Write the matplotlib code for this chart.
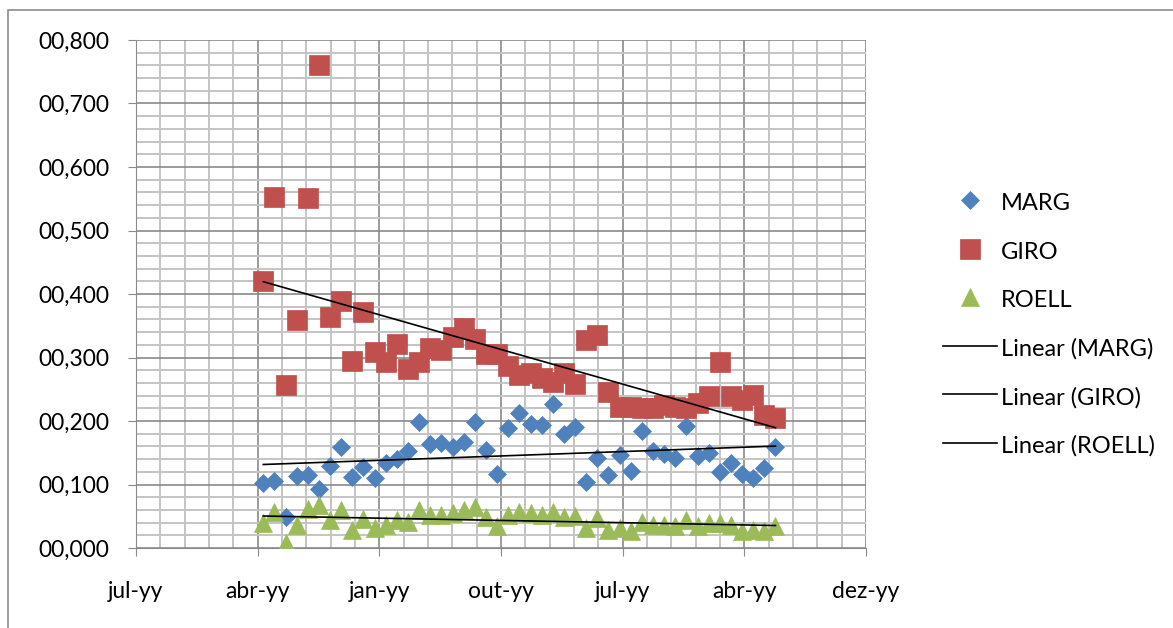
import numpy as np
import matplotlib.pyplot as plt
from matplotlib.patches import Rectangle
from matplotlib.ticker import FuncFormatter, FixedLocator

plt.rcParams['font.family'] = ['Lato', 'DejaVu Sans']

marg = [0.102, 0.106, 0.049, 0.113, 0.115, 0.093, 0.129, 0.159, 0.112, 0.128,
        0.110, 0.134, 0.140, 0.153, 0.198, 0.164, 0.165, 0.159, 0.167, 0.198,
        0.154, 0.117, 0.189, 0.213, 0.195, 0.194, 0.227, 0.180, 0.191, 0.104,
        0.142, 0.115, 0.146, 0.121, 0.184, 0.153, 0.148, 0.142, 0.192, 0.145,
        0.150, 0.120, 0.134, 0.117, 0.110, 0.126, 0.159]
giro = [0.420, 0.552, 0.257, 0.359, 0.551, 0.761, 0.363, 0.389, 0.295, 0.372,
        0.309, 0.293, 0.321, 0.282, 0.293, 0.315, 0.312, 0.333, 0.346, 0.329,
        0.306, 0.306, 0.286, 0.272, 0.276, 0.268, 0.262, 0.275, 0.258, 0.328,
        0.336, 0.246, 0.222, 0.222, 0.220, 0.220, 0.225, 0.222, 0.220, 0.228,
        0.239, 0.293, 0.239, 0.233, 0.241, 0.209, 0.204]
roell = [0.040, 0.057, 0.008, 0.036, 0.062, 0.068, 0.044, 0.060, 0.028, 0.045,
         0.031, 0.036, 0.044, 0.041, 0.060, 0.052, 0.052, 0.055, 0.060, 0.065,
         0.049, 0.034, 0.052, 0.057, 0.055, 0.052, 0.057, 0.049, 0.050, 0.031,
         0.047, 0.028, 0.031, 0.026, 0.041, 0.036, 0.036, 0.034, 0.044, 0.034,
         0.040, 0.039, 0.036, 0.026, 0.028, 0.026, 0.034]
x_labels = ['jul-yy', 'abr-yy', 'jan-yy', 'out-yy', 'jul-yy', 'abr-yy', 'dez-yy']

x = np.arange(len(marg))

fig = plt.figure(figsize=(11.73, 6.28), dpi=100)
ax = fig.add_axes([136 / 1173, 80 / 628, 730 / 1173, 508 / 628])

# outer chart border
fig.add_artist(Rectangle((8 / 1173, -0.1), 1.2, 1.1 - 10 / 628, transform=fig.transFigure,
                         fill=False, edgecolor='#8c8c8c', linewidth=1.2))

series = [('MARG', marg, 'D', 9, '#4F81BD'),
          ('GIRO', giro, 's', 14, '#C0504D'),
          ('ROELL', roell, '^', 13, '#9BBB59')]

handles = []
for name, y, m, ms, c in series:
    h, = ax.plot(x, y, linestyle='none', marker=m, markersize=ms, color=c,
                 markeredgecolor=c, markeredgewidth=0.5, label=name, zorder=3)
    handles.append(h)

# linear trend lines, like Excel's "Linear (...)"
for name, y, m, ms, c in series:
    k, b = np.polyfit(x, y, 1)
    h, = ax.plot([x[0], x[-1]], [k * x[0] + b, k * x[-1] + b], color='black',
                 linewidth=1.2, label='Linear (%s)' % name, zorder=4)
    handles.append(h)

xmin, xmax = -11.43, 54.13
ax.set_xlim(xmin, xmax)
ax.set_ylim(0, 0.8)
ax.xaxis.set_major_locator(FixedLocator(np.linspace(xmin, xmax, 7)))
ax.xaxis.set_minor_locator(FixedLocator(np.linspace(xmin, xmax, 31)))
ax.set_xticklabels(x_labels)
ax.set_yticks(np.arange(0, 0.81, 0.1))
ax.set_yticks(np.arange(0, 0.801, 0.02), minor=True)
ax.yaxis.set_major_formatter(FuncFormatter(lambda v, p: '{:06.3f}'.format(v).replace('.', ',')))

ax.grid(which='minor', color='#c4c4c4', linewidth=1.4)
ax.grid(which='major', color='#8a8a8a', linewidth=1.2)
ax.set_axisbelow(True)
for s in ax.spines.values():
    s.set_visible(False)
ax.spines['left'].set_visible(True)
ax.spines['bottom'].set_visible(True)
ax.spines['left'].set_color('#8a8a8a')
ax.spines['bottom'].set_color('#8a8a8a')
ax.tick_params(which='major', length=6, color='#8a8a8a', labelsize=16.5)
ax.tick_params(axis='y', which='major', pad=13)
ax.tick_params(axis='x', which='major', pad=18)
ax.tick_params(which='minor', length=0)

fig.legend(handles=handles, loc='upper left', bbox_to_anchor=(943 / 1173, 1 - 190 / 628),
           frameon=False, fontsize=17, borderpad=0, borderaxespad=0,
           handlelength=2.29, handletextpad=0.17, handleheight=1.2, labelspacing=1.03)

fig.savefig('out.png', dpi=100)
